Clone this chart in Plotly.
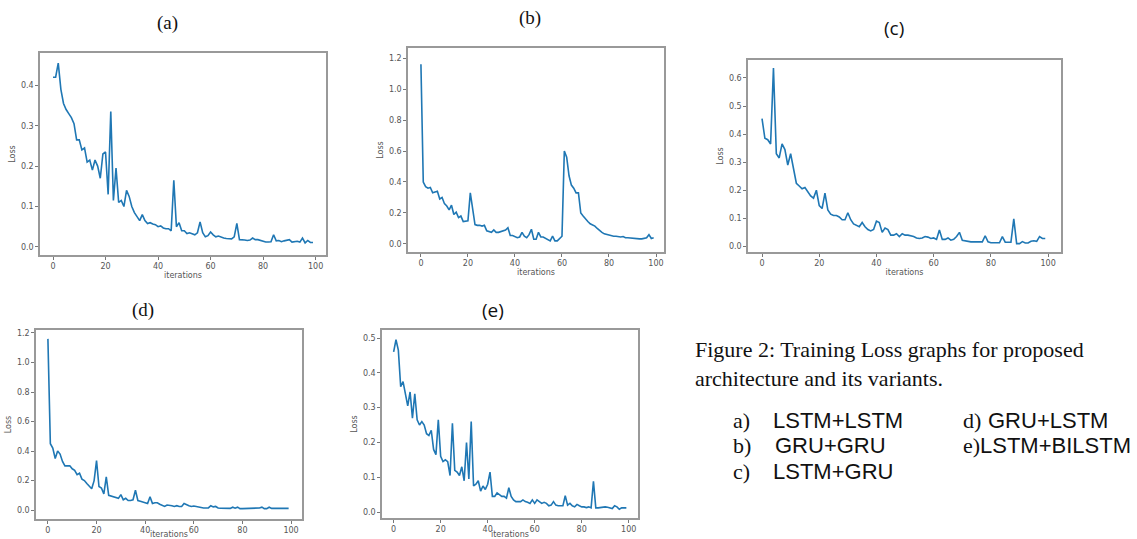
import plotly.graph_objects as go

W, H = 1137, 539

iterations = list(range(100))

loss_a = [0.42, 0.42, 0.455, 0.39, 0.355, 0.34, 0.33, 0.32, 0.305, 0.265,
          0.265, 0.24, 0.245, 0.21, 0.215, 0.19, 0.215, 0.2, 0.17, 0.23,
          0.235, 0.13, 0.335, 0.115, 0.195, 0.11, 0.115, 0.10, 0.14, 0.125,
          0.10, 0.085, 0.075, 0.065, 0.08, 0.065, 0.058, 0.06, 0.057, 0.055,
          0.05, 0.052, 0.047, 0.045, 0.045, 0.04, 0.165, 0.05, 0.06, 0.04,
          0.04, 0.033, 0.035, 0.032, 0.03, 0.035, 0.062, 0.035, 0.025, 0.028,
          0.037, 0.03, 0.025, 0.027, 0.024, 0.022, 0.021, 0.02, 0.02, 0.025,
          0.058, 0.018, 0.018, 0.017, 0.016, 0.017, 0.022, 0.018, 0.018, 0.016,
          0.015, 0.012, 0.012, 0.013, 0.03, 0.015, 0.016, 0.013, 0.015, 0.016,
          0.018, 0.012, 0.013, 0.014, 0.012, 0.022, 0.01, 0.016, 0.011, 0.011]

loss_b = [1.16, 0.4, 0.37, 0.36, 0.365, 0.33, 0.335, 0.34, 0.29, 0.30,
          0.26, 0.245, 0.22, 0.25, 0.19, 0.205, 0.17, 0.18, 0.145, 0.15,
          0.15, 0.33, 0.22, 0.125, 0.12, 0.12, 0.115, 0.12, 0.085, 0.08,
          0.075, 0.09, 0.075, 0.075, 0.08, 0.085, 0.09, 0.105, 0.055, 0.055,
          0.045, 0.04, 0.045, 0.075, 0.05, 0.04, 0.06, 0.095, 0.03, 0.03,
          0.075, 0.045, 0.045, 0.035, 0.025, 0.02, 0.05, 0.02, 0.02, 0.035,
          0.05, 0.6, 0.56, 0.44, 0.38, 0.36, 0.33, 0.33, 0.2, 0.18,
          0.16, 0.145, 0.13, 0.125, 0.115, 0.1, 0.085, 0.075, 0.065, 0.06,
          0.055, 0.055, 0.05, 0.05, 0.045, 0.045, 0.048, 0.04, 0.04, 0.038,
          0.04, 0.038, 0.035, 0.033, 0.033, 0.035, 0.04, 0.06, 0.035, 0.04]

loss_c = [0.455, 0.385, 0.38, 0.365, 0.635, 0.33, 0.315, 0.365, 0.345, 0.29,
          0.33, 0.27, 0.225, 0.215, 0.205, 0.21, 0.195, 0.18, 0.172, 0.2,
          0.145, 0.135, 0.19, 0.13, 0.115, 0.11, 0.11, 0.105, 0.095, 0.095,
          0.12, 0.095, 0.08, 0.075, 0.07, 0.085, 0.07, 0.06, 0.055, 0.06,
          0.09, 0.085, 0.05, 0.065, 0.06, 0.04, 0.04, 0.045, 0.035, 0.045,
          0.04, 0.04, 0.038, 0.035, 0.03, 0.028, 0.03, 0.035, 0.033, 0.028,
          0.03, 0.025, 0.058, 0.025, 0.025, 0.03, 0.022, 0.025, 0.035, 0.05,
          0.022, 0.02, 0.017, 0.016, 0.016, 0.016, 0.016, 0.016, 0.038, 0.016,
          0.013, 0.013, 0.013, 0.013, 0.035, 0.015, 0.015, 0.015, 0.098, 0.01,
          0.01, 0.017, 0.012, 0.012, 0.018, 0.02, 0.018, 0.035, 0.028, 0.028]

loss_d = [1.16, 0.45, 0.42, 0.35, 0.4, 0.38, 0.33, 0.3, 0.3, 0.3,
          0.28, 0.27, 0.24, 0.25, 0.21, 0.2, 0.18, 0.16, 0.145, 0.2,
          0.335, 0.16, 0.15, 0.11, 0.225, 0.1, 0.095, 0.09, 0.085, 0.08,
          0.105, 0.07, 0.08, 0.065, 0.065, 0.07, 0.135, 0.065, 0.06, 0.055,
          0.055, 0.045, 0.09, 0.045, 0.05, 0.05, 0.04, 0.035, 0.025, 0.035,
          0.035, 0.03, 0.025, 0.03, 0.025, 0.025, 0.045, 0.035, 0.03, 0.025,
          0.028, 0.025, 0.02, 0.018, 0.015, 0.015, 0.015, 0.03, 0.022, 0.025,
          0.015, 0.013, 0.013, 0.012, 0.012, 0.012, 0.02, 0.013, 0.02, 0.01,
          0.01, 0.01, 0.01, 0.01, 0.01, 0.01, 0.012, 0.015, 0.02, 0.01,
          0.01, 0.02, 0.012, 0.012, 0.01, 0.008, 0.01, 0.008, 0.01, 0.012]

loss_e = [0.46, 0.495, 0.465, 0.36, 0.375, 0.34, 0.305, 0.345, 0.27, 0.34,
          0.265, 0.25, 0.26, 0.25, 0.225, 0.22, 0.235, 0.18, 0.165, 0.265,
          0.16, 0.145, 0.15, 0.145, 0.105, 0.255, 0.12, 0.115, 0.105, 0.13,
          0.09, 0.2, 0.095, 0.26, 0.075, 0.08, 0.09, 0.06, 0.075, 0.065,
          0.08, 0.115, 0.045, 0.045, 0.055, 0.05, 0.045, 0.045, 0.04, 0.07,
          0.045, 0.035, 0.03, 0.03, 0.03, 0.035, 0.03, 0.028, 0.025, 0.035,
          0.025, 0.035, 0.03, 0.025, 0.028, 0.025, 0.018, 0.02, 0.03, 0.02,
          0.018, 0.018, 0.018, 0.047, 0.02, 0.025, 0.018, 0.015, 0.022, 0.018,
          0.015, 0.015, 0.013, 0.015, 0.012, 0.088, 0.012, 0.012, 0.013, 0.015,
          0.015, 0.014, 0.012, 0.01, 0.018, 0.015, 0.008, 0.012, 0.012, 0.012]

x_ticks = [0, 20, 40, 60, 80, 100]
y_ticks_a = [0.0, 0.1, 0.2, 0.3, 0.4]
y_ticks_b = [0.0, 0.2, 0.4, 0.6, 0.8, 1.0, 1.2]
y_ticks_c = [0.0, 0.1, 0.2, 0.3, 0.4, 0.5, 0.6]
y_ticks_d = [0.0, 0.2, 0.4, 0.6, 0.8, 1.0, 1.2]
y_ticks_e = [0.0, 0.1, 0.2, 0.3, 0.4, 0.5]

panel_titles = ["(a)", "(b)", "(c)", "(d)", "(e)"]
caption_lines = ["Figure 2: Training Loss graphs for proposed",
                 "architecture and its variants."]
legend_letters = ["a)", "b)", "c)", "d)", "e)"]
legend_names = ["LSTM+LSTM", "GRU+GRU", "LSTM+GRU", "GRU+LSTM", "LSTM+BILSTM"]
x_title = "iterations"
y_title = "Loss"

# panel frames in pixels: (left, right, top, bottom), x range, y range, x title in axis?
panels = [
    (loss_a, (40, 326, 53, 255), [-4.95, 103.95], [-0.02, 0.48], y_ticks_a, True),
    (loss_b, (408, 664, 48, 252), [-5.5, 103.4], [-0.052, 1.265], y_ticks_b, True),
    (loss_c, (748, 1061, 60, 252), [-4.9, 104.5], [-0.02, 0.664], y_ticks_c, True),
    (loss_d, (36, 302, 330, 519), [-4.9, 104.5], [-0.06, 1.22], y_ticks_d, False),
    (loss_e, (382, 638, 330, 518), [-4.95, 103.95], [-0.017, 0.523], y_ticks_e, False),
]

fig = go.Figure()
tick_font = dict(family="DejaVu Sans", size=8, color="#555")
label_font = dict(family="DejaVu Sans", size=8, color="#555")
annotations = []
for i, (vals, (l, r, t, b), xr, yr, yt, own_title) in enumerate(panels):
    n = "" if i == 0 else str(i + 1)
    fig.add_trace(go.Scatter(x=iterations, y=vals, mode="lines",
                             line=dict(color="#1f77b4", width=1.6),
                             xaxis="x" + n, yaxis="y" + n, showlegend=False))
    xa = dict(domain=[l / W, r / W], range=xr, anchor="y" + n, automargin=False,
              tickvals=x_ticks, ticks="outside", ticklen=3, tickcolor="#777",
              showline=True, mirror=True, linecolor="#999", linewidth=1.5,
              showgrid=False, zeroline=False, tickfont=tick_font)
    if own_title:
        xa["title"] = dict(text=x_title, font=label_font, standoff=2)
    else:
        annotations.append(dict(x=(l + r) / 2 / W, y=0, xref="paper", yref="paper",
                                text=x_title, showarrow=False, xanchor="center",
                                yanchor="bottom", yshift=-2, font=label_font))
    ya = dict(domain=[1 - b / H, 1 - t / H], range=yr, anchor="x" + n, automargin=False,
              tickvals=yt, tickformat=".1f", ticks="outside", ticklen=3, tickcolor="#777",
              showline=True, mirror=True, linecolor="#999", linewidth=1.5,
              showgrid=False, zeroline=False, tickfont=tick_font,
              title=dict(text=y_title, font=label_font, standoff=4))
    fig.update_layout(**{"xaxis" + n: xa, "yaxis" + n: ya})

title_pos = [(167, 23, "Liberation Serif"), (530, 18, "Liberation Serif"),
             (894, 28, "Open Sans"), (143, 310, "Liberation Serif"),
             (493, 310, "Open Sans")]
for txt, (px, py, fam) in zip(panel_titles, title_pos):
    annotations.append(dict(x=px / W, y=1 - py / H, xref="paper", yref="paper",
                            text=txt, showarrow=False, xanchor="center", yanchor="middle",
                            font=dict(family=fam, size=19, color="#111")))

for j, line in enumerate(caption_lines):
    annotations.append(dict(x=693 / W, y=1 - (349 + 29 * j) / H, xref="paper", yref="paper",
                            text=line, showarrow=False, xanchor="left", yanchor="middle",
                            font=dict(family="Liberation Serif", size=22, color="#111")))

leg_pos = [(731, 771, 420), (731, 773, 445), (731, 771, 471), (961, 986, 420), (961, 978, 445)]
for let, name, (lx, nx, py) in zip(legend_letters, legend_names, leg_pos):
    annotations.append(dict(x=lx / W, y=1 - py / H, xref="paper", yref="paper",
                            text=let, showarrow=False, xanchor="left", yanchor="middle",
                            font=dict(family="Liberation Serif", size=22, color="#111")))
    annotations.append(dict(x=nx / W, y=1 - py / H, xref="paper", yref="paper",
                            text=name, showarrow=False, xanchor="left", yanchor="middle",
                            font=dict(family="Liberation Sans", size=22, color="#111")))

fig.update_layout(width=W, height=H, margin=dict(l=0, r=0, t=0, b=0, autoexpand=False),
                  paper_bgcolor="white", plot_bgcolor="white",
                  annotations=annotations)

fig.write_html("out.html", config={"displayModeBar": False},
               post_script="document.body.style.margin='0';document.body.style.overflow='hidden';")
